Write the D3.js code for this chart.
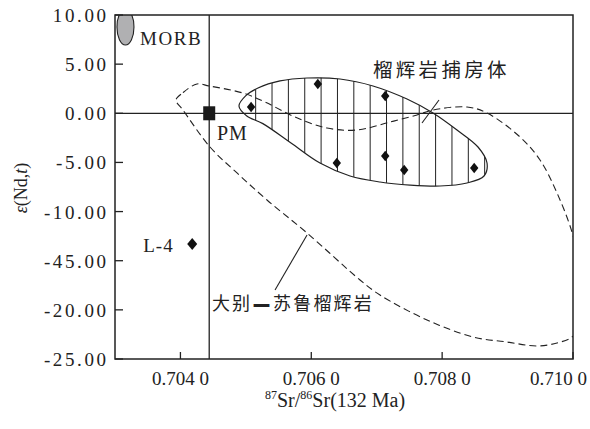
<!DOCTYPE html>
<html><head><meta charset="utf-8">
<script src="https://cdn.jsdelivr.net/npm/d3@7"></script>
<style>
html,body{margin:0;padding:0;background:#fff;}
svg{display:block;}
text{font-family:"Liberation Serif","Times New Roman",serif;fill:#222;}
.cjk{font-family:"Noto Sans CJK SC",sans-serif;}
</style></head><body>
<svg id="chart" width="590" height="429"></svg>
<script>
// ---------- data ----------
const xTicks = [0.7040, 0.7060, 0.7080, 0.7100];
const xTickLabels = ["0.704 0", "0.706 0", "0.708 0", "0.710 0"];
const yTicks = [10, 5, 0, -5, -10, -15, -20, -25];
const yTickLabels = ["10.00", "5.00", "0.00", "-5.00", "-10.00", "-45.00", "-20.00", "-25.00"];

// eclogite xenolith samples
const xenolithSr = [0.70508, 0.70610, 0.70713, 0.70713, 0.70639, 0.70742, 0.70849];
const xenolithNd = [0.64, 2.98, 1.76, -4.35, -5.06, -5.77, -5.57];
// sample L-4
const l4Sr = [0.70418];
const l4Nd = [-13.3];
const l4Name = ["L-4"];
// primitive mantle
const pmSr = 0.70444, pmNd = 0.0;
// MORB field (ellipse): centre and semi-axes
const morbCenter = [0.70316, 8.78];
const morbRadii = [0.00013, 1.83];

// xenolith field outline (Sr, Nd)
const xenolithFieldSr = [0.704895,0.705000,0.705186,0.705522,0.705935,0.706439,0.706943,0.707463,0.707860,0.708227,0.708548,0.708686,0.708640,0.708380,0.707967,0.707509,0.707050,0.706592,0.706133,0.705690,0.705260,0.705010];
const xenolithFieldNd = [0.74,1.80,2.57,3.29,3.59,3.49,2.78,1.45,0.03,-1.70,-3.43,-5.06,-6.38,-7.09,-7.40,-7.30,-6.99,-6.38,-5.06,-3.02,-1.05,-0.25];

// Dabie-Sulu eclogite field outline (Sr, Nd)
const dabieFieldSr = [0.703932,0.704039,0.704253,0.704437,0.704956,0.705293,0.705751,0.706240,0.706699,0.707203,0.707616,0.707860,0.708380,0.708686,0.709190,0.709496,0.709756,0.709985,0.710077,0.710183,0.710107,0.709985,0.709756,0.709450,0.708991,0.708472,0.707769,0.707050,0.706745,0.705935,0.705323,0.704865,0.704452,0.704039];
const dabieFieldNd = [1.35,2.10,2.98,2.78,2.06,1.15,-0.38,-1.50,-1.70,-0.89,-0.17,0.33,0.64,0.03,-2.41,-4.75,-8.11,-12.08,-14.72,-17.98,-21.54,-22.76,-23.37,-23.68,-23.27,-22.76,-21.03,-18.49,-16.96,-12.18,-8.82,-6.07,-3.43,0.335];

// ---------- layout ----------
const W = 590, H = 429;
const L = 115, R = 573, T = 15, B = 359;
const svg = d3.select("#chart");
const x = d3.scaleLinear().domain([0.7030, 0.7100]).range([L, R]);
const y = d3.scaleLinear().domain([-25, 10]).range([B, T]);
const ink = "#222";

const defs = svg.append("defs");
defs.append("clipPath").attr("id", "plotClip")
  .append("rect").attr("x", L).attr("y", T).attr("width", R - L).attr("height", B - T);

const xenoPts = xenolithFieldSr.map((s, i) => [x(s), y(xenolithFieldNd[i])]);
const dabiePts = dabieFieldSr.map((s, i) => [x(s), y(dabieFieldNd[i])]);
const closed = d3.line().curve(d3.curveCatmullRomClosed.alpha(0.5));

defs.append("clipPath").attr("id", "xenoClip")
  .append("path").attr("d", closed(xenoPts));

const plot = svg.append("g").attr("clip-path", "url(#plotClip)");

// MORB ellipse
plot.append("ellipse")
  .attr("cx", x(morbCenter[0])).attr("cy", y(morbCenter[1]))
  .attr("rx", x(morbCenter[0] + morbRadii[0]) - x(morbCenter[0]))
  .attr("ry", y(morbCenter[1] - morbRadii[1]) - y(morbCenter[1]))
  .attr("fill", "#b0b0b2").attr("stroke", ink).attr("stroke-width", 1.1);

// Dabie-Sulu dashed field
plot.append("path").attr("d", closed(dabiePts))
  .attr("fill", "none").attr("stroke", ink).attr("stroke-width", 1.1)
  .attr("stroke-dasharray", "7,4");

// hatching of xenolith field
const hatchX = d3.range(0.70515, 0.7087, 0.00025);
svg.append("g").attr("clip-path", "url(#xenoClip)")
  .selectAll("line").data(hatchX).join("line")
  .attr("x1", d => x(d)).attr("x2", d => x(d))
  .attr("y1", y(5)).attr("y2", y(-9))
  .attr("stroke", ink).attr("stroke-width", 1);

plot.append("path").attr("d", closed(xenoPts))
  .attr("fill", "none").attr("stroke", ink).attr("stroke-width", 1.2);

// reference lines
svg.append("line").attr("x1", L).attr("x2", R).attr("y1", y(0)).attr("y2", y(0))
  .attr("stroke", ink).attr("stroke-width", 1.3);
svg.append("line").attr("x1", x(pmSr)).attr("x2", x(pmSr)).attr("y1", T).attr("y2", B)
  .attr("stroke", ink).attr("stroke-width", 1.3);

// frame
svg.append("rect").attr("x", L).attr("y", T).attr("width", R - L).attr("height", B - T)
  .attr("fill", "none").attr("stroke", ink).attr("stroke-width", 1.5);

// y ticks (inward)
svg.append("g").selectAll("line").data(yTicks).join("line")
  .attr("x1", L).attr("x2", L + 8).attr("y1", d => y(d)).attr("y2", d => y(d))
  .attr("stroke", ink).attr("stroke-width", 1.3);
svg.append("g").selectAll("text").data(yTicks).join("text")
  .attr("x", 108.6).attr("y", d => y(d) + 7)
  .attr("text-anchor", "end").style("font-size", "19px").style("letter-spacing", "2.6px")
  .text((d, i) => yTickLabels[i]);

// x ticks (inward)
svg.append("g").selectAll("line").data(xTicks).join("line")
  .attr("x1", d => x(d)).attr("x2", d => x(d)).attr("y1", B).attr("y2", B - 7)
  .attr("stroke", ink).attr("stroke-width", 1.3);
const xl = svg.append("g").selectAll("text").data(xTicks).join("text")
  .attr("y", 385).attr("text-anchor", "middle").style("font-size", "19px")
  .text((d, i) => xTickLabels[i]);
xl.attr("x", function(d) {
  const w = this.getComputedTextLength();
  return Math.min(x(d), W - 3 - w / 2);
});

// diamonds
const diamond = "M0,-5.3L4.2,0L0,5.3L-4.2,0Z";
svg.append("g").selectAll("path").data(xenolithSr).join("path")
  .attr("d", diamond)
  .attr("transform", (d, i) => `translate(${x(d)},${y(xenolithNd[i])})`)
  .attr("fill", "#111");
svg.append("g").selectAll("path").data(l4Sr).join("path")
  .attr("d", "M0,-6L5,0L0,6L-5,0Z")
  .attr("transform", (d, i) => `translate(${x(d)},${y(l4Nd[i])})`)
  .attr("fill", "#111");
svg.append("text").attr("x", x(l4Sr[0]) - 49).attr("y", y(l4Nd[0]) + 8)
  .style("font-size", "19px").style("letter-spacing", "1px").text(l4Name[0]);

// PM square
svg.append("rect").attr("x", x(pmSr) - 6).attr("y", y(pmNd) - 7)
  .attr("width", 12).attr("height", 14).attr("fill", "#1a1a1a");
svg.append("text").attr("x", 217).attr("y", 140)
  .style("font-size", "20px").style("letter-spacing", "1px").text("PM");

// MORB label
svg.append("text").attr("x", 140).attr("y", 45)
  .style("font-size", "19px").style("letter-spacing", "1.6px").text("MORB");

// field labels + leaders
svg.append("text").attr("class", "cjk").attr("x", 373).attr("y", 77)
  .style("font-size", "19.5px").style("letter-spacing", "3.3px").text("榴辉岩捕房体");
svg.append("line").attr("x1", x(0.707952)).attr("y1", y(1.35)).attr("x2", x(0.707692)).attr("y2", y(-0.99))
  .attr("stroke", ink).attr("stroke-width", 1.1);

const lab2 = svg.append("text").attr("class", "cjk").attr("y", 310).style("font-size", "18px");
lab2.append("tspan").attr("x", 212).style("letter-spacing", "2px").text("大别");
lab2.append("tspan").attr("x", 254.5).attr("dy", -1.5)
  .style("font-family", "'Liberation Sans',sans-serif").style("font-size", "14px")
  .style("stroke", ink).style("stroke-width", "1.8px").text("—");
lab2.append("tspan").attr("x", 273).attr("dy", 1.5).style("letter-spacing", "2.2px").text("苏鲁榴辉岩");
svg.append("line").attr("x1", x(0.705935)).attr("y1", y(-12.38)).attr("x2", x(0.705446)).attr("y2", y(-17.98))
  .attr("stroke", ink).attr("stroke-width", 1.1);

// axis titles
const xt = svg.append("text").attr("x", 265).attr("y", 407).style("font-size", "20px");
xt.append("tspan").style("font-size", "12px").attr("dy", -8).text("87");
xt.append("tspan").attr("dy", 8).text("Sr/");
xt.append("tspan").style("font-size", "12px").attr("dy", -8).text("86");
xt.append("tspan").attr("dy", 8).text("Sr(132 Ma)");

const yt = svg.append("text").attr("transform", "translate(27,188) rotate(-90)")
  .attr("text-anchor", "middle").style("font-size", "18px");
yt.append("tspan").style("font-style", "italic").text("ε");
yt.append("tspan").text("(Nd,");
yt.append("tspan").style("font-style", "italic").text("t");
yt.append("tspan").text(")");
</script>
</body></html>
